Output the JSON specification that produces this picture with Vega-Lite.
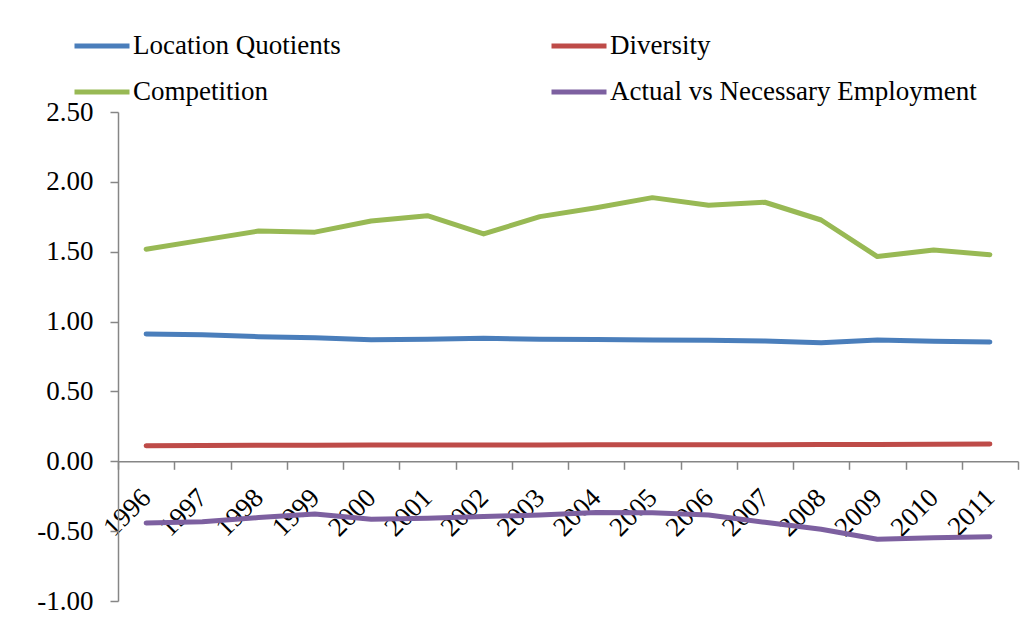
{
  "$schema": "https://vega.github.io/schema/vega-lite/v6.json",
  "autosize": "none",
  "width": 900,
  "height": 489,
  "padding": {"left": 118, "top": 112, "right": 4, "bottom": 38},
  "background": "white",
  "config": {
    "view": {"stroke": null},
    "font": "Liberation Serif"
  },
  "data": {
    "values": [
      {"year": "1996", "series": "Location Quotients", "value": 0.911},
      {"year": "1997", "series": "Location Quotients", "value": 0.905},
      {"year": "1998", "series": "Location Quotients", "value": 0.892},
      {"year": "1999", "series": "Location Quotients", "value": 0.885},
      {"year": "2000", "series": "Location Quotients", "value": 0.870},
      {"year": "2001", "series": "Location Quotients", "value": 0.873},
      {"year": "2002", "series": "Location Quotients", "value": 0.880},
      {"year": "2003", "series": "Location Quotients", "value": 0.873},
      {"year": "2004", "series": "Location Quotients", "value": 0.872},
      {"year": "2005", "series": "Location Quotients", "value": 0.868},
      {"year": "2006", "series": "Location Quotients", "value": 0.866},
      {"year": "2007", "series": "Location Quotients", "value": 0.861},
      {"year": "2008", "series": "Location Quotients", "value": 0.849},
      {"year": "2009", "series": "Location Quotients", "value": 0.868},
      {"year": "2010", "series": "Location Quotients", "value": 0.859},
      {"year": "2011", "series": "Location Quotients", "value": 0.854},
      {"year": "1996", "series": "Diversity", "value": 0.112},
      {"year": "1997", "series": "Diversity", "value": 0.113},
      {"year": "1998", "series": "Diversity", "value": 0.114},
      {"year": "1999", "series": "Diversity", "value": 0.115},
      {"year": "2000", "series": "Diversity", "value": 0.116},
      {"year": "2001", "series": "Diversity", "value": 0.116},
      {"year": "2002", "series": "Diversity", "value": 0.117},
      {"year": "2003", "series": "Diversity", "value": 0.117},
      {"year": "2004", "series": "Diversity", "value": 0.118},
      {"year": "2005", "series": "Diversity", "value": 0.118},
      {"year": "2006", "series": "Diversity", "value": 0.119},
      {"year": "2007", "series": "Diversity", "value": 0.119},
      {"year": "2008", "series": "Diversity", "value": 0.120},
      {"year": "2009", "series": "Diversity", "value": 0.120},
      {"year": "2010", "series": "Diversity", "value": 0.122},
      {"year": "2011", "series": "Diversity", "value": 0.124},
      {"year": "1996", "series": "Competition", "value": 1.518},
      {"year": "1997", "series": "Competition", "value": 1.583},
      {"year": "1998", "series": "Competition", "value": 1.648},
      {"year": "1999", "series": "Competition", "value": 1.640},
      {"year": "2000", "series": "Competition", "value": 1.720},
      {"year": "2001", "series": "Competition", "value": 1.758},
      {"year": "2002", "series": "Competition", "value": 1.627},
      {"year": "2003", "series": "Competition", "value": 1.751},
      {"year": "2004", "series": "Competition", "value": 1.815},
      {"year": "2005", "series": "Competition", "value": 1.887},
      {"year": "2006", "series": "Competition", "value": 1.832},
      {"year": "2007", "series": "Competition", "value": 1.854},
      {"year": "2008", "series": "Competition", "value": 1.727},
      {"year": "2009", "series": "Competition", "value": 1.465},
      {"year": "2010", "series": "Competition", "value": 1.512},
      {"year": "2011", "series": "Competition", "value": 1.479},
      {"year": "1996", "series": "Actual vs Necessary Employment", "value": -0.442},
      {"year": "1997", "series": "Actual vs Necessary Employment", "value": -0.432},
      {"year": "1998", "series": "Actual vs Necessary Employment", "value": -0.403},
      {"year": "1999", "series": "Actual vs Necessary Employment", "value": -0.377},
      {"year": "2000", "series": "Actual vs Necessary Employment", "value": -0.415},
      {"year": "2001", "series": "Actual vs Necessary Employment", "value": -0.408},
      {"year": "2002", "series": "Actual vs Necessary Employment", "value": -0.396},
      {"year": "2003", "series": "Actual vs Necessary Employment", "value": -0.384},
      {"year": "2004", "series": "Actual vs Necessary Employment", "value": -0.366},
      {"year": "2005", "series": "Actual vs Necessary Employment", "value": -0.368},
      {"year": "2006", "series": "Actual vs Necessary Employment", "value": -0.384},
      {"year": "2007", "series": "Actual vs Necessary Employment", "value": -0.437},
      {"year": "2008", "series": "Actual vs Necessary Employment", "value": -0.487},
      {"year": "2009", "series": "Actual vs Necessary Employment", "value": -0.558},
      {"year": "2010", "series": "Actual vs Necessary Employment", "value": -0.547},
      {"year": "2011", "series": "Actual vs Necessary Employment", "value": -0.540}
    ]
  },
  "mark": {"type": "line", "strokeWidth": 5, "strokeCap": "round", "strokeJoin": "round"},
  "encoding": {
    "x": {
      "field": "year",
      "type": "ordinal",
      "scale": {"paddingInner": 0, "paddingOuter": 0},
      "axis": {
        "title": null,
        "offset": -139.7,
        "domainColor": "#868686",
        "domainWidth": 1.5,
        "tickColor": "#868686",
        "tickWidth": 1.5,
        "tickSize": 8,
        "tickBand": "extent",
        "labelAngle": -45,
        "labelAlign": "right",
        "labelBaseline": "middle",
        "labelPadding": 24,
        "labelFontSize": 27,
        "labelFont": "Liberation Serif",
        "labelColor": "#000000"
      }
    },
    "y": {
      "field": "value",
      "type": "quantitative",
      "scale": {"domain": [-1, 2.5], "nice": false, "zero": false},
      "axis": {
        "title": null,
        "grid": false,
        "values": [-1, -0.5, 0, 0.5, 1, 1.5, 2, 2.5],
        "labelExpr": "replace(format(datum.value, '.2f'), '\u2212', '-')",
        "domainColor": "#868686",
        "domainWidth": 1.5,
        "tickColor": "#868686",
        "tickWidth": 1.5,
        "tickSize": 8,
        "labelPadding": 17,
        "labelFontSize": 27,
        "labelFont": "Liberation Serif",
        "labelColor": "#000000"
      }
    },
    "color": {
      "field": "series",
      "type": "nominal",
      "scale": {
        "domain": ["Location Quotients", "Diversity", "Competition", "Actual vs Necessary Employment"],
        "range": ["#4A7EBB", "#BE4B48", "#98B954", "#7D60A0"]
      },
      "legend": {
        "title": null,
        "orient": "none",
        "direction": "horizontal",
        "legendX": -46,
        "legendY": -96,
        "columns": 2,
        "columnPadding": 200,
        "rowPadding": 3,
        "symbolType": "stroke",
        "symbolSize": 3025,
        "symbolStrokeWidth": 5,
        "labelFontSize": 27,
        "labelFont": "Liberation Serif",
        "labelColor": "#000000",
        "labelOffset": 1,
        "labelLimit": 500
      }
    }
  }
}
